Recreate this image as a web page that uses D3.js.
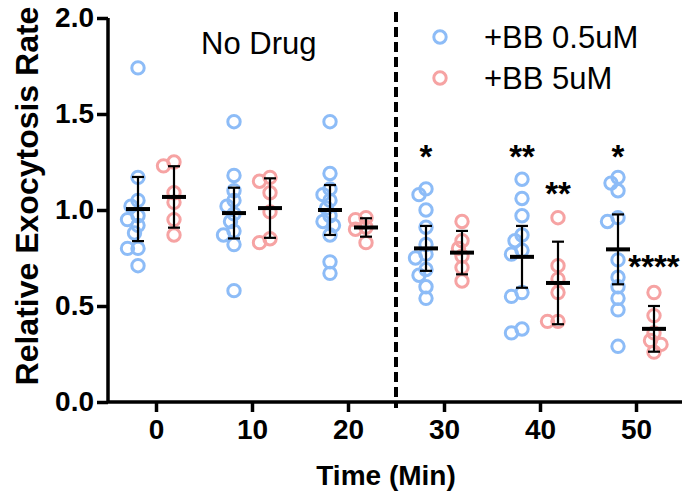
<!DOCTYPE html>
<html>

<body style="margin:0">
    <div id="vizDiv"></div>

    <script src="https://d3js.org/d3.v7.min.js"></script>
    <script>
        // time points (min) and readings per group
        const times = [0, 10, 20, 30, 40, 50];
        const seriesNames = ["+BB 0.5uM", "+BB 5uM"];

        const blueValues = [
            [1.74, 1.17, 1.05, 1.02, 0.97, 0.95, 0.92, 0.88, 0.80, 0.80, 0.71],
            [1.46, 1.18, 1.10, 1.05, 1.02, 0.98, 0.94, 0.89, 0.87, 0.82, 0.58],
            [1.46, 1.19, 1.11, 1.08, 1.05, 1.01, 0.97, 0.94, 0.92, 0.87, 0.73, 0.67],
            [1.11, 1.08, 1.00, 0.91, 0.82, 0.77, 0.75, 0.69, 0.66, 0.60, 0.54],
            [1.16, 1.06, 0.97, 0.87, 0.84, 0.79, 0.77, 0.57, 0.55, 0.38, 0.36],
            [1.17, 1.14, 1.10, 0.96, 0.94, 0.74, 0.65, 0.60, 0.54, 0.48, 0.29]
        ];
        const redValues = [
            [1.25, 1.23, 1.09, 1.04, 0.95, 0.87],
            [1.17, 1.15, 1.09, 0.99, 0.85, 0.83],
            [0.96, 0.95, 0.91, 0.90, 0.83],
            [0.94, 0.84, 0.80, 0.76, 0.70, 0.63],
            [0.96, 0.71, 0.64, 0.57, 0.42, 0.42],
            [0.57, 0.45, 0.36, 0.32, 0.30, 0.26]
        ];

        // mean and SD as drawn
        const blueMean = [1.005, 0.984, 1.00, 0.80, 0.756, 0.795];
        const blueSD = [0.167, 0.132, 0.13, 0.117, 0.161, 0.182];
        const redMean = [1.068, 1.01, 0.909, 0.778, 0.62, 0.381];
        const redSD = [0.160, 0.155, 0.048, 0.113, 0.215, 0.119];

        // significance marks
        const sigLabels = ["*", "**", "*", "**", "****"];
        const sigSeries = [0, 0, 0, 1, 1];
        const sigTimes = [30, 40, 50, 40, 50];
        const sigValues = [1.30, 1.30, 1.30, 1.11, 0.73];

        const yTicks = [0, 0.5, 1.0, 1.5, 2.0];
        const colors = ["#8dbcf7", "#f6a3a3"];
        const font = "'Liberation Sans', Arial, sans-serif";

        const width = 682, height = 496;

        const svg = d3
            .select("#vizDiv")
            .append('svg')
            .attr('width', width)
            .attr('height', height)
            .style('font-family', font);

        const x = d3.scaleLinear().domain([-5, 55]).range([108, 684]);
        const y = d3.scaleLinear().domain([0, 2]).range([402, 18]);
        const groupOffset = 1.875; // minutes either side of the tick

        // axes
        const yAxis = svg.append('g')
            .attr('transform', 'translate(108,0)')
            .call(d3.axisLeft(y).tickValues(yTicks).tickFormat(d3.format('.1f')).tickSize(11).tickPadding(3));
        const xAxis = svg.append('g')
            .attr('transform', 'translate(0,402)')
            .call(d3.axisBottom(x).tickValues(times).tickSize(10).tickPadding(7));

        [yAxis, xAxis].forEach(g => {
            g.select('.domain').attr('stroke-width', 3.5).attr('stroke', '#000');
            g.selectAll('.tick line').attr('stroke-width', 3.5).attr('stroke', '#000');
            g.selectAll('.tick text')
                .attr('fill', '#000')
                .style('font-family', font)
                .style('font-weight', 'bold')
                .style('font-size', '28px');
        });
        xAxis.select('.domain').attr('d', 'M108,0H684');
        yAxis.select('.domain').attr('d', 'M0,402V18');

        svg.append('text')
            .attr('transform', 'translate(38,' + 196 + ') rotate(-90)')
            .attr('text-anchor', 'middle')
            .style('font-weight', 'bold')
            .style('font-size', '32px')
            .text('Relative Exocytosis Rate');

        svg.append('text')
            .attr('x', 386)
            .attr('y', 485)
            .attr('text-anchor', 'middle')
            .style('font-weight', 'bold')
            .style('font-size', '28px')
            .text('Time (Min)');

        // divider between no drug and drug periods
        svg.append('line')
            .attr('x1', x(25)).attr('x2', x(25))
            .attr('y1', 12).attr('y2', 408)
            .attr('stroke', '#000')
            .attr('stroke-width', 4)
            .attr('stroke-dasharray', '10,5');

        svg.append('text')
            .attr('x', x(10.7))
            .attr('y', 54)
            .attr('text-anchor', 'middle')
            .style('font-size', '31px')
            .text('No Drug');

        // simple beeswarm placement so circles don't sit on top of each other
        function dodge(vals, cx) {
            const placed = [];
            const pts = vals.map(v => ({ v: v, py: y(v) })).sort((a, b) => a.py - b.py);
            pts.forEach(p => {
                for (let k = 0; k < 20; k++) {
                    const off = (k % 2 === 0 ? 1 : -1) * Math.ceil(k / 2) * 3.5;
                    const ok = placed.every(q => Math.hypot(off - q.off, p.py - q.py) >= 8);
                    if (ok) { p.off = off; break; }
                }
                placed.push(p);
            });
            return pts.map(p => ({ cx: cx + p.off, cy: p.py }));
        }

        const groups = [
            { vals: blueValues, mean: blueMean, sd: blueSD, shift: -groupOffset, color: colors[0] },
            { vals: redValues, mean: redMean, sd: redSD, shift: groupOffset, color: colors[1] }
        ];

        groups.forEach(gr => {
            times.forEach((t, i) => {
                const cx = x(t + gr.shift);
                const pts = dodge(gr.vals[i], cx);
                svg.append('g')
                    .selectAll('circle')
                    .data(pts)
                    .enter()
                    .append('circle')
                    .attr('cx', d => d.cx)
                    .attr('cy', d => d.cy)
                    .attr('r', 6.2)
                    .attr('fill', 'none')
                    .attr('stroke', gr.color)
                    .attr('stroke-width', 3);
            });
        });

        // mean +/- SD
        groups.forEach(gr => {
            times.forEach((t, i) => {
                const cx = x(t + gr.shift);
                const g = svg.append('g').attr('stroke', '#000');
                const top = y(gr.mean[i] + gr.sd[i]), bot = y(gr.mean[i] - gr.sd[i]);
                g.append('line').attr('x1', cx).attr('x2', cx).attr('y1', top).attr('y2', bot).attr('stroke-width', 2.2);
                g.append('line').attr('x1', cx - 6).attr('x2', cx + 6).attr('y1', top).attr('y2', top).attr('stroke-width', 2.2);
                g.append('line').attr('x1', cx - 6).attr('x2', cx + 6).attr('y1', bot).attr('y2', bot).attr('stroke-width', 2.2);
                g.append('line').attr('x1', cx - 12).attr('x2', cx + 12)
                    .attr('y1', y(gr.mean[i])).attr('y2', y(gr.mean[i])).attr('stroke-width', 4);
            });
        });

        svg.append('g')
            .selectAll('text')
            .data(sigLabels)
            .enter()
            .append('text')
            .attr('x', (d, i) => x(sigTimes[i] + groups[sigSeries[i]].shift))
            .attr('y', (d, i) => y(sigValues[i]) + 16)
            .attr('text-anchor', 'middle')
            .style('font-size', '33px')
            .style('font-weight', 'bold')
            .text(d => d);

        // legend
        const legend = svg.append('g')
            .selectAll('g')
            .data(seriesNames)
            .enter()
            .append('g')
            .attr('transform', (d, i) => 'translate(440,' + (37 + i * 41) + ')');
        legend.append('circle')
            .attr('r', 6.2)
            .attr('fill', 'none')
            .attr('stroke', (d, i) => colors[i])
            .attr('stroke-width', 3);
        legend.append('text')
            .attr('x', 44)
            .attr('y', 11)
            .style('font-size', '31px')
            .text(d => d);
    </script>
</body>

</html>
